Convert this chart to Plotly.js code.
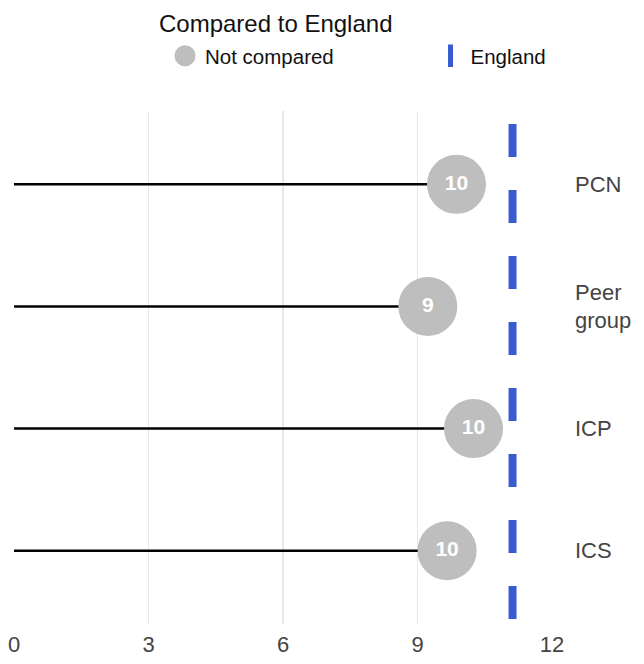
<!DOCTYPE html>
<html>
<head>
<meta charset="utf-8">
<script src="https://cdn.plot.ly/plotly-3.0.1.min.js"></script>
<style>html,body{margin:0;padding:0;background:#fff;}#chart{width:644px;height:664px;}</style>
</head>
<body>
<div id="chart"></div>
<script>
// ---- data ----
const categories = ["PCN", "Peer<br>group", "ICP", "ICS"];
const values = [9.87, 9.23, 10.25, 9.66];
const englandValue = 11.12;
const xTicks = [0, 3, 6, 9, 12];
const legendTitle = "Compared to England";
const seriesName = "Not compared";
const englandName = "England";

// ---- build traces ----
const stemX = [], stemY = [];
categories.forEach((c, i) => { stemX.push(0, values[i], null); stemY.push(c, c, null); });

const FONT = 'Liberation Sans, Arial, sans-serif';
const GREY = '#bebebe';
const BLUE = '#3a5bd0';

const stems = {
  x: stemX, y: stemY, type: 'scatter', mode: 'lines',
  line: {color: '#000000', width: 2.5}, hoverinfo: 'skip', showlegend: false
};
const points = {
  x: values, y: categories, type: 'scatter', mode: 'markers+text',
  name: seriesName, legend: 'legend',
  marker: {color: GREY, size: 54, line: {width: 5, color: GREY}},
  text: values.map(v => String(Math.round(v))),
  textposition: 'middle center',
  textfont: {color: '#ffffff', size: 21, family: FONT, weight: 'bold'},
  showlegend: true
};
const englandLegend = {
  x: [null], y: [null], type: 'scatter', mode: 'markers', name: englandName,
  legend: 'legend2',
  marker: {symbol: 'line-ns', size: 16, color: BLUE, line: {width: 5, color: BLUE}},
  showlegend: true
};

const layout = {
  width: 644, height: 664,
  margin: {l: 14, r: 92, t: 111, b: 40},
  paper_bgcolor: '#ffffff', plot_bgcolor: '#ffffff',
  font: {family: FONT, color: '#444444'},
  xaxis: {
    range: [0, 12], tickvals: xTicks, ticktext: xTicks.map(String),
    showgrid: true, gridcolor: '#e8e8e8', gridwidth: 1.5,
    zeroline: false, showline: false, ticks: '',
    tickfont: {size: 22, color: '#444444'}, ticklabelstandoff: 5, fixedrange: true
  },
  yaxis: {
    type: 'category', categoryarray: categories, categoryorder: 'array',
    range: [3.6, -0.6], side: 'right',
    showgrid: false, zeroline: false, showline: false, ticks: '',
    tickfont: {size: 22, color: '#444444'}, ticklabelstandoff: 22, fixedrange: true
  },
  shapes: [{
    type: 'line', xref: 'x', yref: 'paper',
    x0: englandValue, x1: englandValue, y0: 0.9745, y1: 0,
    line: {color: BLUE, width: 8, dash: '33px,33px'}, layer: 'above'
  }],
  annotations: [{
    text: legendTitle, xref: 'paper', yref: 'paper',
    x: 0.2658, y: 1.1715, xanchor: 'left', yanchor: 'middle',
    showarrow: false, font: {size: 24, color: '#111111', family: FONT}
  }],
  showlegend: true,
  legend: {
    orientation: 'h', x: 0.2807, xanchor: 'left', y: 1.1463, yanchor: 'top',
    font: {size: 20.5, color: '#111111', family: FONT},
    itemsizing: 'trace', bgcolor: 'rgba(0,0,0,0)'
  },
  legend2: {
    orientation: 'h', x: 0.7742, xanchor: 'left', y: 1.1463, yanchor: 'top',
    font: {size: 20.5, color: '#111111', family: FONT},
    itemsizing: 'trace', bgcolor: 'rgba(0,0,0,0)'
  }
};

Plotly.newPlot('chart', [stems, points, englandLegend], layout, {displayModeBar: false, staticPlot: true});
</script>
</body>
</html>
